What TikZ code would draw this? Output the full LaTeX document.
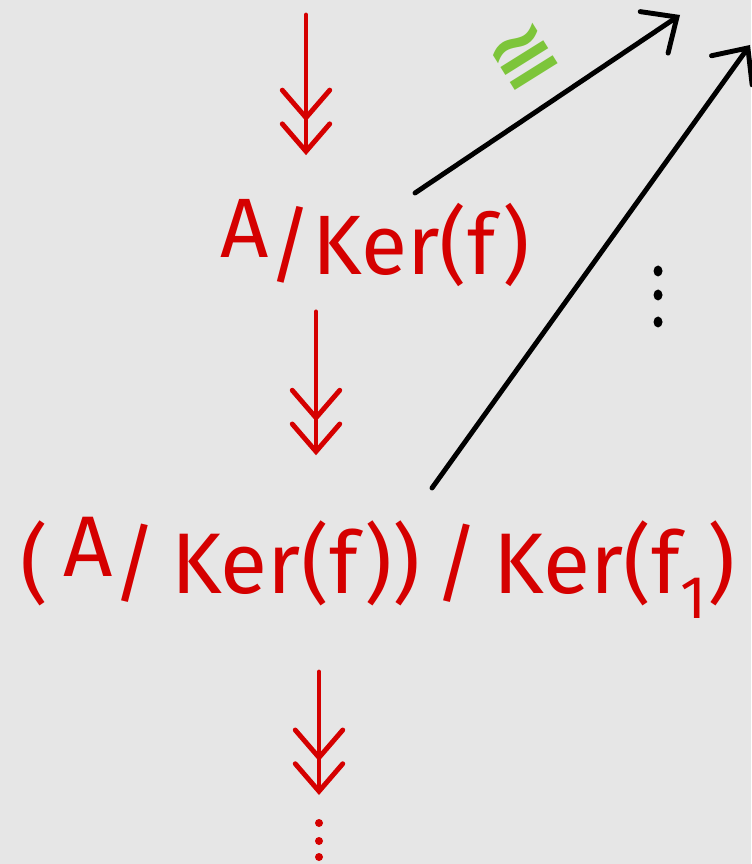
\documentclass[tikz,border=0pt]{standalone}
\usepackage{fontspec}
\setmainfont{Fira Sans}
\newfontfamily\symfont{DejaVu Sans}
\usepackage{tikz}
\usetikzlibrary{arrows.meta,calc}
\definecolor{InkRed}{RGB}{213,0,0}
\definecolor{InkGreen}{RGB}{125,197,58}
\definecolor{Paper}{RGB}{230,230,230}

\begin{document}
\begin{tikzpicture}[x=0.02cm,y=-0.02cm,
  quot/.style={font=\fontsize{46}{50}\selectfont,text=InkRed,inner sep=0pt},
  surj/.style={InkRed,line width=2.8pt,line cap=round,
    -{Straight Barb[length=0.55cm,width=0.95cm,line cap=round]Straight Barb[length=0.55cm,width=0.95cm,line cap=round]}},
  iso/.style={black,line width=2.8pt,line cap=round,
    -{Straight Barb[length=0.55cm,width=1cm,line cap=round]}}]
  \fill[Paper] (0,0) rectangle (751,864);
  \useasboundingbox (0,0) rectangle (751,864);

  % quotients
  \node[quot,font=\fontsize{48}{52}\selectfont] (lab1) at (375,243) {\raisebox{.2em}{A}/Ker(f)};
  \node[quot,font=\fontsize{49}{54}\selectfont] (lab2) at (378,568)
    {(\,\raisebox{.2em}{A}/\,Ker(f))\,/\,Ker(f\textsubscript{1})};

  % vertical surjections
  \coordinate (a0) at (306,15);
  \coordinate (a3) at (319,672);
  \draw[surj] (a0) -- (a0 |- lab1.north) [shorten >=25];
  \draw[surj] ($(a0 |- lab1.south)+(10,25)$) -- ($(a0 |- lab2.north)+(10,0)$) [shorten >=35];
  \draw[surj] (a3) -- (319,795);
  \foreach \y in {823,841,857}{
    \fill[InkRed] (319,\y) circle (4);
  }

  % maps to the right
  \coordinate (t1) at (680,15);
  \coordinate (t2) at (750,45);
  \coordinate (s1) at (415,193);
  \coordinate (s2) at (432,488);
  \draw[iso] (s1) -- (t1);
  \draw[iso] (s2) -- (t2);
  \node[text=InkGreen,rotate=32,inner sep=0pt,font=\symfont\bfseries\fontsize{46}{50}\selectfont] (cong) at (525,58) {≅};
  \foreach \y in {271,295,322}{
    \fill (658,\y) ellipse (4.5 and 5.5);
  }
\end{tikzpicture}
\end{document}
